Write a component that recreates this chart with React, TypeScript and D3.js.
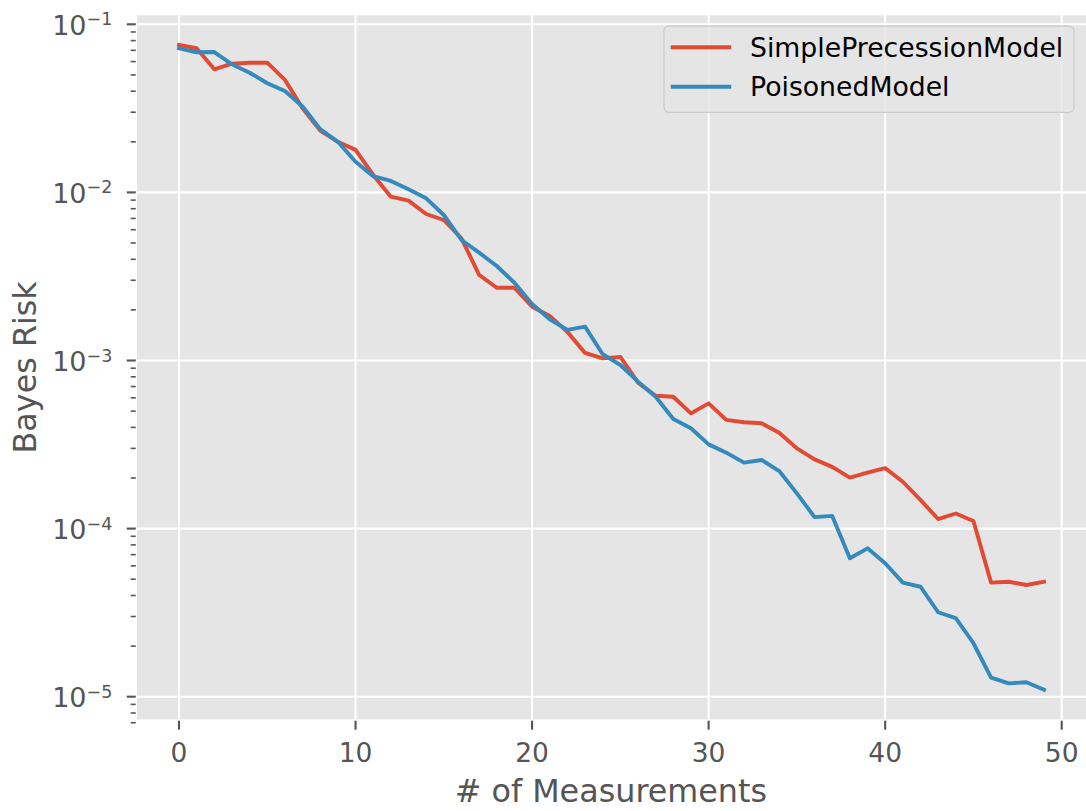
import React from "react";
import * as d3 from "d3";

const measurements = d3.range(0, 50);
const simplePrecession = [
  0.0753, 0.072, 0.054, 0.0583, 0.0591, 0.0591, 0.0467, 0.0317, 0.0233, 0.02,
  0.0179, 0.0127, 0.00943, 0.00893, 0.00744, 0.00685, 0.00533, 0.00323, 0.00271, 0.00271,
  0.00209, 0.00184, 0.00148, 0.00111, 0.00103, 0.00105, 0.000738, 0.000617, 0.000609, 0.000485,
  0.000556, 0.000443, 0.000429, 0.000423, 0.000372, 0.0003, 0.000258, 0.000233, 0.000201, 0.000215,
  0.000229, 0.00019, 0.000148, 0.000114, 0.000123, 0.000111, 0.0000477, 0.0000483, 0.0000462, 0.0000483,
];
const poisoned = [
  0.072, 0.0682, 0.0684, 0.0578, 0.0515, 0.0446, 0.0401, 0.0324, 0.0238, 0.02,
  0.0152, 0.0125, 0.0117, 0.01043, 0.00922, 0.00734, 0.00521, 0.00438, 0.00365, 0.0029,
  0.00217, 0.00176, 0.00152, 0.00159, 0.00109, 0.00094, 0.000748, 0.000609, 0.000449, 0.000395,
  0.000317, 0.000283, 0.000247, 0.000256, 0.00022, 0.000162, 0.000117, 0.000119, 0.0000666, 0.0000763,
  0.0000622, 0.0000477, 0.0000451, 0.0000318, 0.0000293, 0.0000208, 0.000013, 0.000012, 0.0000122, 0.000011,
];
const seriesNames = ["SimplePrecessionModel", "PoisonedModel"];
const seriesColors = ["#E24A33", "#348ABD"];
const xTicks = [0, 10, 20, 30, 40, 50];
const yDecades = [-1, -2, -3, -4, -5];

const W = 1086;
const H = 811;
const FONT = "DejaVu Sans";

export default function App() {
  const x = d3.scaleLinear().domain([0, 50]).range([179, 1061.7]);
  const y = d3.scaleLog().domain([1e-1, 1e-5]).range([24.3, 696.7]);
  const left = x(-2.45);
  const right = x(51.45);
  const top = 14;
  const bottom = 720.7;

  const minor: number[] = [];
  for (let e = -6; e <= -1; e++) {
    for (let k = 2; k <= 9; k++) {
      const v = k * Math.pow(10, e);
      const py = y(v);
      if (py >= top - 1 && py <= bottom + 2.5) minor.push(v);
    }
  }

  const line = d3
    .line<number>()
    .x((_, i) => x(measurements[i]))
    .y((d) => y(d));
  const series = [simplePrecession, poisoned];

  return (
    <svg
      width={W}
      height={H}
      style={{ position: "absolute", left: 0, top: 0, background: "#fff" }}
      fontFamily={FONT}
    >
      <rect x={left} y={top} width={right - left} height={bottom - top} fill="#E5E5E5" />
      {xTicks.map((t) => (
        <line key={"gx" + t} x1={x(t)} x2={x(t)} y1={top} y2={bottom} stroke="#fff" strokeWidth={2.1} />
      ))}
      {yDecades.map((e) => (
        <line key={"gy" + e} x1={left} x2={right} y1={y(Math.pow(10, e))} y2={y(Math.pow(10, e))} stroke="#fff" strokeWidth={2.1} />
      ))}
      {series.map((s, i) => (
        <path
          key={"s" + i}
          d={line(s) || ""}
          fill="none"
          stroke={seriesColors[i]}
          strokeWidth={3.9}
          strokeLinejoin="round"
          strokeLinecap="square"
        />
      ))}
      {/* spines (white) */}
      <rect x={left} y={top} width={right - left} height={bottom - top} fill="none" stroke="#fff" strokeWidth={2.6} />
      {/* x ticks */}
      {xTicks.map((t) => (
        <g key={"xt" + t}>
          <line x1={x(t)} x2={x(t)} y1={bottom} y2={bottom + 9} stroke="#555555" strokeWidth={2.1} />
          <text x={x(t)} y={761.5} textAnchor="middle" fontSize={26.5} fill="#555555">
            {t}
          </text>
        </g>
      ))}
      {/* y ticks */}
      {yDecades.map((e) => {
        const py = y(Math.pow(10, e));
        return (
          <g key={"yt" + e}>
            <line x1={left - 9} x2={left} y1={py} y2={py} stroke="#555555" strokeWidth={2.1} />
            <text x={86.5} y={py + 10.6} textAnchor="end" fontSize={27} fill="#555555">
              10
            </text>
            <text x={86.5} y={py + 1} textAnchor="start" fontSize={17.5} fill="#555555">
              {"\u2212" + Math.abs(e)}
            </text>
          </g>
        );
      })}
      {minor.map((v, i) => (
        <line key={"mt" + i} x1={left - 5} x2={left} y1={y(v)} y2={y(v)} stroke="#555555" strokeWidth={1.6} />
      ))}
      {/* axis labels */}
      <text x={(left + 1086) / 2} y={801.5} textAnchor="middle" fontSize={31.8} fill="#555555">
        # of Measurements
      </text>
      <text
        transform={`translate(35.5, ${(top + bottom) / 2}) rotate(-90)`}
        textAnchor="middle"
        fontSize={31.8}
        fill="#555555"
      >
        Bayes Risk
      </text>
      {/* legend */}
      <rect x={664} y={26} width={410} height={86.3} rx={5} ry={5} fill="#E5E5E5" fillOpacity={0.8} stroke="#CCCCCC" strokeWidth={1.3} />
      {seriesNames.map((n, i) => {
        const cy = 47.3 + i * 39.4;
        return (
          <g key={"lg" + i}>
            <line x1={672.7} x2={729.3} y1={cy} y2={cy} stroke={seriesColors[i]} strokeWidth={3.9} strokeLinecap="square" />
            <text x={750} y={cy + 9.7} fontSize={26.7} fill="#000">
              {n}
            </text>
          </g>
        );
      })}
    </svg>
  );
}
